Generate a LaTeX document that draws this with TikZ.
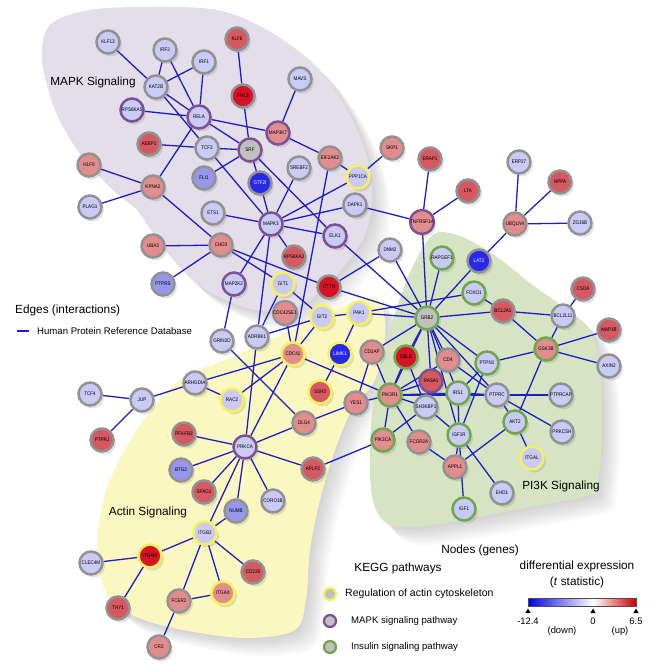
\documentclass[tikz,border=0pt]{standalone}
\usepackage{fontspec}
\setmainfont{Liberation Sans}
\newfontfamily\lblfont[FakeStretch=0.88]{Liberation Sans}
\usetikzlibrary{shadows}
\pgfdeclarelayer{bgl}
\pgfdeclarelayer{shl}
\pgfsetlayers{shl,bgl,main}
\definecolor{cLB}{RGB}{202,202,246}
\definecolor{cMB}{RGB}{150,150,236}
\definecolor{cDB}{RGB}{40,40,232}
\definecolor{cLR}{RGB}{226,140,142}
\definecolor{cR}{RGB}{214,88,96}
\definecolor{cDR}{RGB}{214,18,36}
\definecolor{cGR}{RGB}{192,192,192}
\definecolor{oGc}{RGB}{146,146,146}
\definecolor{oPc}{RGB}{124,82,150}
\definecolor{oYc}{RGB}{246,240,92}
\definecolor{oNc}{RGB}{112,166,80}
\definecolor{edgec}{RGB}{30,30,196}
\definecolor{blobP}{RGB}{228,221,234}
\definecolor{blobY}{RGB}{250,248,192}
\definecolor{blobG}{RGB}{214,228,196}
\tikzset{
  gn/.style={circle, minimum size=23pt, inner sep=0pt, line width=2.5pt, font=\lblfont\fontsize{5.2}{6}\selectfont,
    drop shadow={shadow xshift=2.5pt, shadow yshift=-3pt, opacity=0.18, fill=black!60}},
  fLB/.style={fill=cLB}, fMB/.style={fill=cMB}, fDB/.style={fill=cDB,text=white},
  fLR/.style={fill=cLR}, fR/.style={fill=cR}, fDR/.style={fill=cDR}, fGR/.style={fill=cGR},
  oG/.style={draw=oGc}, oP/.style={draw=oPc}, oY/.style={draw=oYc}, oN/.style={draw=oNc},
  edge/.style={draw=edgec, line width=1.3pt},
  big/.style={font=\fontsize{11.8}{14}\selectfont, inner sep=0pt},
  leg/.style={font=\fontsize{9.6}{12}\selectfont, inner sep=0pt, anchor=west},
  lgc/.style={circle, minimum size=12pt, inner sep=0pt, line width=2.3pt, fill=cGR},
  blobsh/.style={fill=black, opacity=0.018}
}
\newcommand\gnode[4]{\node[gn,#4] (#1) at (#2,#3) {#1};}
\def\blobPpath{plot[smooth cycle, tension=0.55] coordinates {(42,60) (50,25) (90,10) (150,7) (217,10) (267,30) (317,67) (350,115) (368,160) (372,200) (365,235) (345,265) (320,292) (290,310) (255,310) (225,300) (195,282) (165,250) (133,205) (100,177) (77,150) (55,110)}}
\def\blobYpath{plot[smooth cycle, tension=0.55] coordinates {(180,380) (230,358) (280,335) (330,312) (365,298) (382,305) (385,340) (375,380) (352,410) (335,450) (320,500) (310,550) (306,600) (295,630) (250,638) (200,633) (150,622) (115,605) (100,575) (98,530) (110,480) (140,425)}}
\def\blobGpath{plot[smooth cycle, tension=0.55] coordinates {(440,232) (465,238) (497,257) (530,283) (563,307) (590,330) (600,370) (602,430) (598,480) (590,495) (530,507) (463,520) (413,527) (385,522) (372,497) (370,447) (373,405) (380,370) (390,330) (403,290) (415,262) (428,240)}}
\begin{document}
\begin{tikzpicture}[x=1pt,y=-1pt]
\useasboundingbox (0,0) rectangle (666,666);
\begin{pgfonlayer}{shl}
\foreach \s in {2,4,...,18} {
  \fill[blobsh, shift={(\s,\s)}] \blobPpath;
  \fill[blobsh, shift={(\s,\s)}] \blobYpath;
  \fill[blobsh, shift={(\s,\s)}] \blobGpath;
}
\end{pgfonlayer}
\begin{pgfonlayer}{bgl}
\fill[blobP] \blobPpath;
\fill[blobY] \blobYpath;
\fill[blobG] \blobGpath;
\end{pgfonlayer}
% nodes
\gnode{KLF13}{108}{42}{fLB,oG}
\gnode{IRF2}{165}{50}{fLB,oG}
\gnode{IRF1}{204}{62}{fLB,oG}
\gnode{KLF6}{237}{39}{fR,oG}
\gnode{KAT2B}{156}{87}{fLB,oG}
\gnode{RPS6KA5}{132}{110}{fLB,oP}
\gnode{RELA}{199}{117}{fLB,oP}
\gnode{FHL3}{243}{96}{fDR,oG}
\gnode{MAVS}{300}{79}{fLB,oG}
\gnode{MAP3K7}{278}{133}{fLR,oP}
\gnode{AEBP1}{149}{144}{fR,oG}
\gnode{TCF3}{207}{148}{fLB,oG}
\gnode{SRF}{250}{150}{fGR,oP}
\gnode{H1F0}{89}{165}{fLR,oG}
\gnode{FLI1}{204}{178}{fMB,oG}
\gnode{GTF2I}{260}{183}{fDB,oG}
\gnode{SREBF2}{299}{168}{fLB,oG}
\gnode{EIF2AK2}{330}{158}{fLR,oG}
\gnode{KPNA2}{153}{187}{fLR,oG}
\gnode{PLAG1}{90}{207}{fLB,oG}
\gnode{SKP1}{392}{148}{fLR,oG}
\gnode{PPP1CA}{358}{177}{fLB,oY}
\gnode{ERAP1}{430}{159}{fR,oG}
\gnode{LTA}{468}{191}{fR,oG}
\gnode{ERP27}{519}{162}{fLB,oG}
\gnode{NPPA}{560}{182}{fR,oG}
\gnode{ETS1}{213}{213}{fLB,oG}
\gnode{MAPK3}{271}{224}{fLB,oP}
\gnode{ELK1}{335}{236}{fLB,oP}
\gnode{UBA3}{153}{246}{fLR,oG}
\gnode{CHD3}{221}{245}{fLR,oG}
\gnode{RPS6KA2}{294}{257}{fR,oG}
\gnode{PTPRS}{163}{284}{fMB,oG}
\gnode{MAP2K2}{234}{284}{fLB,oP}
\gnode{GIT1}{283}{284}{fLB,oY}
\gnode{CTTN}{329}{287}{fDR,oG}
\gnode{CDC42SE1}{285}{313}{fLR,oG}
\gnode{GIT2}{322}{317}{fLB,oY}
\gnode{GRIN2D}{222}{341}{fLB,oG}
\gnode{ADRBK1}{257}{337}{fLB,oG}
\gnode{CDC42}{293}{354}{fLR,oY}
\gnode{LIMK1}{340}{354}{fDB,oY}
\gnode{ARHGDIA}{195}{383}{fLB,oG}
\gnode{DAPK1}{355}{205}{fLB,oG}
\gnode{TNFRSF1A}{422}{222}{fLR,oP}
\gnode{UBQLN4}{515}{224}{fLR,oG}
\gnode{ZG16B}{580}{223}{fLB,oG}
\gnode{DNM2}{390}{250}{fLB,oG}
\gnode{RAPGEF1}{442}{258}{fLB,oN}
\gnode{LAT2}{479}{261}{fDB,oG}
\gnode{FOXO1}{474}{293}{fLB,oN}
\gnode{CSDA}{583}{289}{fR,oG}
\gnode{BCL2A1}{503}{311}{fR,oG}
\gnode{BCL2L11}{563}{316}{fLB,oG}
\gnode{PAK1}{359}{313}{fLB,oY}
\gnode{GRB2}{427}{318}{fGR,oN}
\gnode{MAP1B}{609}{330}{fR,oG}
\gnode{GSK3B}{546}{349}{fLR,oN}
\gnode{AXIN2}{609}{366}{fLB,oG}
\gnode{CD2AP}{372}{352}{fLR,oG}
\gnode{CBLB}{406}{357}{fDR,oN}
\gnode{CD4}{448}{360}{fLR,oG}
\gnode{PTPN1}{487}{363}{fLB,oN}
\gnode{RASA1}{431}{381}{fR,oP}
\gnode{SSH3}{320}{392}{fR,oY}
\gnode{YES1}{356}{403}{fLR,oG}
\gnode{PIK3R1}{390}{395}{fLR,oN}
\gnode{IRS1}{458}{393}{fLB,oN}
\gnode{PTPRC}{497}{395}{fLB,oG}
\gnode{SH3KBP1}{426}{407}{fLB,oG}
\gnode{AKT2}{515}{422}{fLB,oN}
\gnode{IGF1R}{459}{435}{fLB,oN}
\gnode{PTPRCAP}{561}{395}{fLB,oG}
\gnode{PRKCSH}{562}{432}{fLB,oG}
\gnode{PIK3CA}{383}{440}{fLR,oN}
\gnode{FCGR2A}{419}{442}{fLR,oG}
\gnode{APPL1}{455}{467}{fLR,oG}
\gnode{ITGAL}{532}{458}{fLB,oY}
\gnode{EHD1}{502}{493}{fLB,oG}
\gnode{IGF1}{464}{509}{fLB,oN}
\gnode{TCF4}{90}{394}{fLB,oG}
\gnode{JUP}{142}{400}{fLB,oG}
\gnode{RAC2}{232}{400}{fLB,oY}
\gnode{PTPRJ}{102}{440}{fR,oG}
\gnode{PFKFB2}{184}{434}{fR,oG}
\gnode{PRKCA}{245}{447}{fLB,oP}
\gnode{DLG4}{304}{423}{fLR,oG}
\gnode{BTG2}{181}{470}{fMB,oG}
\gnode{APLP2}{313}{469}{fR,oG}
\gnode{SPAG1}{204}{492}{fR,oG}
\gnode{CORO1B}{273}{501}{fLB,oG}
\gnode{NUMB}{236}{511}{fMB,oG}
\gnode{ITGB2}{205}{533}{fLB,oY}
\gnode{ITGAM}{150}{556}{fDR,oY}
\gnode{CLEC4M}{91}{563}{fLB,oG}
\gnode{CD226}{253}{572}{fR,oG}
\gnode{ITGAX}{223}{593}{fLR,oY}
\gnode{FCER2}{179}{601}{fLR,oG}
\gnode{THY1}{118}{608}{fR,oG}
\gnode{CR2}{159}{647}{fLR,oG}
% edges
\begin{pgfonlayer}{bgl}
\foreach \a/\b in {KLF13/KAT2B, IRF2/KAT2B, IRF2/RELA, IRF1/KAT2B, IRF1/RELA, KAT2B/RELA, KAT2B/TCF3, TCF3/MAPK3, RPS6KA5/RELA, RELA/MAP3K7, RELA/SRF, RELA/KPNA2, KLF6/FHL3, FHL3/SRF, MAVS/MAP3K7, MAP3K7/EIF2AK2, AEBP1/TCF3, TCF3/SRF, SRF/FLI1, SRF/GTF2I, SRF/ELK1, GTF2I/MAPK3, SREBF2/MAPK3, EIF2AK2/PPP1CA, PPP1CA/SKP1, PPP1CA/MAPK3, DAPK1/MAPK3, DAPK1/TNFRSF1A, ETS1/MAPK3, ELK1/MAPK3, RPS6KA2/MAPK3, MAP2K2/MAPK3, MAPK3/ADRBK1, EIF2AK2/CDC42, H1F0/KPNA2, PLAG1/KPNA2, KPNA2/CHD3, UBA3/CHD3, PTPRS/CHD3, CHD3/GIT1, CHD3/CTTN, MAP2K2/GRIN2D,
TNFRSF1A/ERAP1, TNFRSF1A/LTA, TNFRSF1A/GRB2, UBQLN4/ERP27, UBQLN4/NPPA, UBQLN4/ZG16B, UBQLN4/LAT2,
GIT1/GIT2, GIT1/ADRBK1, GIT2/PAK1, GIT2/CDC42, GIT2/ADRBK1, CDC42SE1/CDC42, CTTN/DNM2, CTTN/GRB2, DNM2/GRB2, ELK1/GRB2, RAPGEF1/GRB2, LAT2/GRB2, FOXO1/BCL2A1, GRB2/BCL2A1, BCL2A1/BCL2L11, BCL2A1/GSK3B, BCL2L11/CSDA, BCL2L11/GSK3B, GSK3B/MAP1B, GSK3B/AXIN2, GSK3B/PTPN1, GSK3B/AKT2, PAK1/LIMK1, PAK1/GRB2, PAK1/FOXO1, LIMK1/SSH3,
GRB2/CD2AP, GRB2/CBLB, GRB2/PIK3R1, GRB2/RASA1, GRB2/CD4, GRB2/IRS1, GRB2/PTPRC, GRB2/PTPN1, GRB2/IGF1R,
PIK3R1/CD2AP, PIK3R1/CBLB, PIK3R1/RASA1, PIK3R1/CD4, PIK3R1/IRS1, PIK3R1/PTPRC, PIK3R1/SH3KBP1, PIK3R1/PIK3CA, PIK3R1/FCGR2A, PIK3R1/YES1, CDC42/PIK3R1,
CBLB/SH3KBP1, CD4/PTPRC, IRS1/PTPN1, IRS1/IGF1R, IRS1/PTPRC, PTPRC/PTPRCAP, PTPRC/PRKCSH, PTPRC/AKT2, PTPN1/IGF1R, SH3KBP1/IGF1R, SH3KBP1/PIK3CA, AKT2/APPL1, AKT2/ITGAL, IGF1R/IGF1, IGF1R/EHD1, IGF1R/APPL1, FCGR2A/APPL1, APLP2/PIK3CA, DLG4/YES1, CD2AP/YES1,
TCF4/JUP, JUP/PTPRJ, JUP/ARHGDIA, ARHGDIA/RAC2, ARHGDIA/CDC42, RAC2/CDC42, CDC42/PRKCA, ADRBK1/PRKCA, GRIN2D/DLG4, PRKCA/PFKFB2, PRKCA/BTG2, PRKCA/SPAG1, PRKCA/NUMB, PRKCA/CORO1B, PRKCA/APLP2, PRKCA/DLG4, PRKCA/ITGB2, ITGB2/NUMB, ITGB2/ITGAM, ITGB2/CD226, ITGB2/ITGAX, ITGB2/FCER2, ITGAM/CLEC4M, ITGAM/THY1, FCER2/ITGAX, FCER2/CR2}
  \draw[edge] (\a) -- (\b);
\end{pgfonlayer}
% region labels
\node[big] (lmapk) at (93,82) {MAPK Signaling};
\node[big] (lactin) at (148,512) {Actin Signaling};
\node[big] (lpi3k) at (561,486) {PI3K Signaling};
% edge legend
\node[big, anchor=west] (ledges) at (15,310) {Edges (interactions)};
\coordinate (el1) at (17,331);
\coordinate (el2) at (29,331);
\draw[edge, line width=2.4pt] (el1) -- (el2);
\node[leg] (lhprd) at (37,331) {Human Protein Reference Database};
% node legend
\node[big] (lnodes) at (480,550) {Nodes (genes)};
\node[big] (lkegg) at (398,568) {KEGG pathways};
\node[lgc, draw=oYc] (ly) at (330,594) {};
\node[lgc, draw=oPc] (lp) at (330,621) {};
\node[lgc, draw=oNc] (lg) at (330,647) {};
\node[leg, font=\fontsize{10.5}{12}\selectfont] (tly) at (345,594) {Regulation of actin cytoskeleton};
\node[leg] (tlp) at (351,621) {MAPK signaling pathway};
\node[leg] (tlg) at (351,647) {Insulin signaling pathway};
\node[big] (ldiff) at (577,566) {differential expression};
\node[big] (ltstat) at (577,582) {(\textit{t} statistic)};
\shade[left color=blue!90!black, right color=white] (528,598) rectangle (593,606);
\shade[left color=white, right color=red!80!black] (593,598) rectangle (636,606);
\draw[line width=0.4pt, black!70] (528,598) rectangle (636,606);
\foreach \tx in {528,593,636} \fill (\tx-2.6,613) -- (\tx+2.6,613) -- (\tx,608.5) -- cycle;
\node[font=\fontsize{9.4}{11}\selectfont, inner sep=0pt] (tm) at (528,621) {-12.4};
\node[font=\fontsize{9.4}{11}\selectfont, inner sep=0pt] (tz) at (593,621) {0};
\node[font=\fontsize{9.4}{11}\selectfont, inner sep=0pt] (tp) at (636,621) {6.5};
\node[font=\fontsize{9.4}{11}\selectfont, inner sep=0pt] (tdn) at (562,631) {(down)};
\node[font=\fontsize{9.4}{11}\selectfont, inner sep=0pt] (tup) at (620,631) {(up)};
\end{tikzpicture}
\end{document}
